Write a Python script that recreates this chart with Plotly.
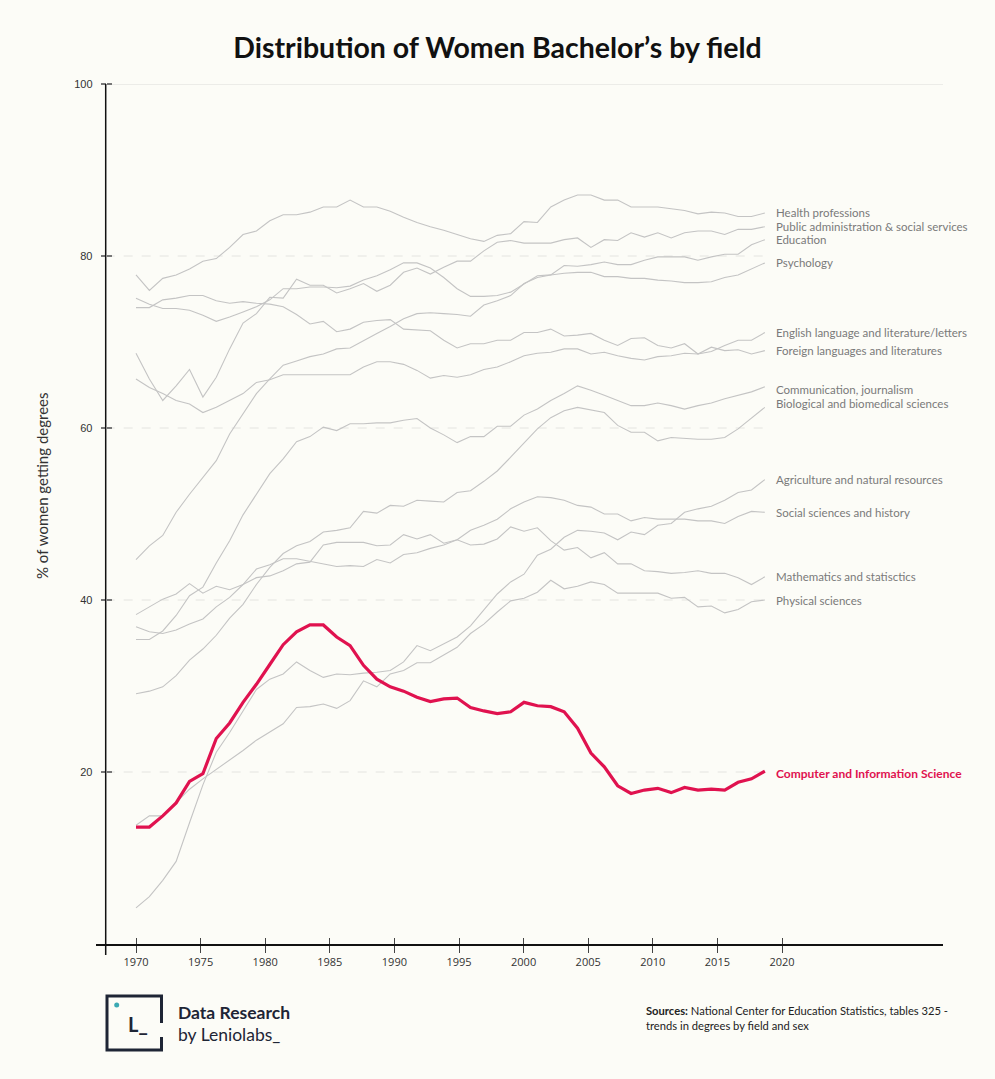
import plotly.graph_objects as go

# ---- data ----
years = list(range(1970, 2018))
axis_years = [1970, 1975, 1980, 1985, 1990, 1995, 2000, 2005, 2010, 2015, 2020]
y_ticks = [20, 40, 60, 80, 100]

health = [77.8, 76.0, 77.4, 77.8, 78.5, 79.4, 79.7, 81.0, 82.5, 82.9,
          84.1, 84.8, 84.8, 85.1, 85.7, 85.7, 86.5, 85.7, 85.7, 85.2,
          84.5, 83.9, 83.4, 83.0, 82.5, 82.0, 81.7, 82.4, 82.6, 84.0,
          83.9, 85.7, 86.5, 87.1, 87.1, 86.5, 86.5, 85.7, 85.7, 85.7,
          85.5, 85.3, 84.9, 85.1, 85.0, 84.6, 84.6, 85.0]
pub_admin = [68.7, 65.7, 63.2, 64.9, 66.8, 63.6, 65.9, 69.2, 72.2, 73.3,
             75.2, 75.1, 77.3, 76.6, 76.6, 75.7, 76.2, 76.8, 75.9, 76.6,
             78.1, 78.6, 77.9, 78.7, 79.4, 79.4, 80.6, 81.6, 81.8, 81.5,
             81.5, 81.5, 81.9, 82.1, 81.0, 81.9, 81.8, 82.7, 82.2, 82.7,
             82.1, 82.7, 82.9, 82.9, 82.5, 83.1, 83.1, 83.4]
education = [75.1, 74.4, 73.9, 73.9, 73.7, 73.1, 72.4, 72.9, 73.5, 74.1,
             74.9, 76.2, 76.2, 76.4, 76.4, 76.3, 76.5, 77.2, 77.7, 78.4,
             79.2, 79.2, 78.6, 77.5, 76.2, 75.3, 75.3, 75.4, 75.8, 76.8,
             77.7, 77.8, 78.9, 78.8, 79.0, 79.3, 79.0, 79.0, 79.5, 79.9,
             79.9, 79.9, 79.5, 79.9, 80.2, 80.2, 81.3, 81.9]
psychology = [44.7, 46.3, 47.5, 50.2, 52.3, 54.3, 56.2, 59.3, 61.6, 64.0,
              65.7, 67.3, 67.8, 68.3, 68.6, 69.2, 69.3, 70.2, 71.0, 71.8,
              72.7, 73.3, 73.4, 73.3, 73.2, 73.0, 74.3, 74.8, 75.4, 76.8,
              77.5, 77.8, 78.0, 78.1, 78.1, 77.6, 77.6, 77.4, 77.4, 77.2,
              77.1, 76.9, 76.9, 77.0, 77.5, 77.8, 78.5, 79.2]
english = [65.7, 64.7, 64.0, 63.2, 62.8, 61.8, 62.4, 63.2, 64.0, 65.3,
           65.6, 66.2, 66.2, 66.2, 66.2, 66.2, 66.2, 67.1, 67.7, 67.7,
           67.4, 66.7, 65.8, 66.1, 65.9, 66.2, 66.8, 67.1, 67.7, 68.4,
           68.7, 68.8, 69.2, 69.2, 68.6, 68.8, 68.4, 68.1, 67.9, 68.3,
           68.4, 68.7, 68.6, 68.9, 69.6, 70.2, 70.2, 71.1]
foreign = [74.0, 74.0, 74.9, 75.1, 75.4, 75.4, 74.8, 74.5, 74.7, 74.5,
           74.4, 74.1, 73.2, 72.1, 72.4, 71.2, 71.5, 72.3, 72.5, 72.6,
           71.5, 71.4, 71.3, 70.2, 69.3, 69.8, 69.8, 70.2, 70.2, 71.1,
           71.1, 71.5, 70.7, 70.8, 71.0, 70.2, 69.6, 70.4, 70.5, 69.6,
           69.3, 69.8, 68.6, 69.4, 69.0, 69.1, 68.6, 69.0]
comm = [35.4, 35.4, 36.4, 38.2, 40.5, 41.5, 44.3, 46.9, 49.9, 52.3,
        54.7, 56.4, 58.4, 59.0, 60.1, 59.7, 60.5, 60.5, 60.6, 60.6,
        60.9, 61.1, 60.0, 59.2, 58.3, 59.0, 59.0, 60.2, 60.2, 61.5,
        62.2, 63.2, 64.0, 64.9, 64.4, 63.8, 63.2, 62.6, 62.6, 62.9,
        62.6, 62.2, 62.6, 62.9, 63.4, 63.8, 64.2, 64.8]
biology = [29.1, 29.4, 29.9, 31.2, 33.0, 34.3, 35.9, 37.9, 39.5, 41.8,
           43.8, 45.4, 46.3, 46.8, 47.9, 48.1, 48.4, 50.3, 50.1, 51.0,
           50.9, 51.6, 51.5, 51.4, 52.5, 52.7, 53.8, 55.0, 56.6, 58.3,
           59.9, 61.2, 62.0, 62.4, 62.1, 61.8, 60.3, 59.5, 59.5, 58.5,
           58.9, 58.8, 58.7, 58.7, 58.9, 59.9, 61.1, 62.4]
agriculture = [4.2, 5.5, 7.4, 9.6, 14.1, 18.5, 22.3, 24.6, 27.1, 29.6,
               30.8, 31.4, 32.8, 31.8, 31.0, 31.4, 31.3, 31.5, 31.6, 31.8,
               32.8, 34.7, 34.1, 34.9, 35.7, 37.0, 38.8, 40.7, 42.1, 43.0,
               45.2, 45.9, 47.3, 48.1, 48.0, 47.8, 47.0, 47.9, 47.6, 48.7,
               48.9, 50.2, 50.6, 50.9, 51.6, 52.5, 52.8, 54.0]
social = [36.9, 36.3, 36.1, 36.5, 37.2, 37.8, 39.2, 40.3, 41.8, 43.6,
          44.1, 44.8, 44.8, 44.5, 44.2, 43.9, 44.0, 43.9, 44.7, 44.3,
          45.3, 45.5, 46.0, 46.4, 47.0, 48.1, 48.7, 49.4, 50.6, 51.4,
          52.0, 51.9, 51.6, 51.0, 50.8, 50.0, 50.0, 49.2, 49.6, 49.4,
          49.4, 49.4, 49.2, 49.2, 48.9, 49.7, 50.3, 50.2]
math = [38.3, 39.2, 40.1, 40.7, 41.9, 40.8, 41.6, 41.2, 41.8, 42.6,
        42.8, 43.4, 44.2, 44.4, 46.4, 46.7, 46.7, 46.7, 46.3, 46.4,
        47.6, 47.1, 47.6, 46.6, 47.0, 46.4, 46.5, 47.1, 48.5, 48.0,
        48.4, 46.9, 45.8, 46.1, 44.9, 45.5, 44.2, 44.2, 43.4, 43.3,
        43.1, 43.2, 43.4, 43.1, 43.1, 42.6, 41.8, 42.7]
physical = [13.8, 14.9, 14.9, 16.5, 18.0, 19.2, 20.3, 21.3, 22.5, 23.7,
            24.6, 25.6, 27.5, 27.6, 27.9, 27.4, 28.3, 30.6, 29.9, 31.4,
            31.8, 32.7, 32.7, 33.6, 34.5, 36.1, 37.2, 38.6, 39.9, 40.2,
            40.9, 42.3, 41.3, 41.6, 42.1, 41.8, 40.8, 40.8, 40.8, 40.8,
            40.2, 40.3, 39.2, 39.3, 38.5, 38.9, 39.8, 40.0]
computer = [13.6, 13.6, 14.9, 16.4, 18.9, 19.8, 23.9, 25.7, 28.1, 30.2,
            32.5, 34.8, 36.3, 37.1, 37.1, 35.7, 34.7, 32.4, 30.8, 29.9,
            29.4, 28.7, 28.2, 28.5, 28.6, 27.5, 27.1, 26.8, 27.0, 28.1,
            27.7, 27.6, 27.0, 25.1, 22.2, 20.6, 18.4, 17.5, 17.9, 18.1,
            17.6, 18.2, 17.9, 18.0, 17.9, 18.8, 19.2, 20.1]

grey_fields = [
    ("Health professions", health, 1),
    ("Public administration & social services", pub_admin, 0),
    ("Education", education, 0),
    ("Psychology", psychology, 0),
    ("English language and literature/letters", english, 0),
    ("Foreign languages and literatures", foreign, 0),
    ("Communication, journalism", comm, -3),
    ("Biological and biomedical sciences", biology, 4),
    ("Agriculture and natural resources", agriculture, 0),
    ("Social sciences and history", social, 0),
    ("Mathematics and statisctics", math, 0),
    ("Physical sciences", physical, 0),
]
highlight_label = "Computer and Information Science"

# ---- page geometry (px) ----
W, H = 995, 1079
L_PX, R_PX, T_PX, B_PX = 96, 943, 84, 944
YAXIS_PX = 105.7
FIRST_PX = 136          # where the first point / 1970 tick sit
STEP_DATA = 13.38       # px between data points
STEP_TICK = 12.92       # px per year on the tick axis

BG = "#FCFCF7"
GREY = "#C4C4C4"
RED = "#E0124F"
INK = "#1E2535"


def px_x(px):
    return (px - L_PX) / (R_PX - L_PX)


def px_y(py):
    return (B_PX - py) / (B_PX - T_PX)


def page_text(text, px, py, size, bold=False, color=INK, xanchor="left", **kw):
    # free text placed in page pixels
    return dict(x=px_x(px), y=px_y(py), xref="paper", yref="paper",
                text=f"<b>{text}</b>" if bold else text, showarrow=False,
                xanchor=xanchor, yanchor="middle",
                font=dict(family="Lato", size=size, color=color), **kw)


data_range = [years[0] - (FIRST_PX - L_PX) / STEP_DATA, years[0] + (R_PX - FIRST_PX) / STEP_DATA]
tick_range = [axis_years[0] - (FIRST_PX - L_PX) / STEP_TICK, axis_years[0] + (R_PX - FIRST_PX) / STEP_TICK]
grid_start = years[0] - (FIRST_PX - YAXIS_PX) / STEP_DATA

fig = go.Figure()

for name, vals, _ in grey_fields:
    fig.add_trace(go.Scatter(x=years, y=vals, mode="lines", name=name,
                             line=dict(color=GREY, width=1.1),
                             hoverinfo="skip", showlegend=False))

fig.add_trace(go.Scatter(x=years, y=computer, mode="lines", name=highlight_label,
                         line=dict(color=RED, width=3.2),
                         hoverinfo="skip", showlegend=False))

# invisible trace so the tick axis gets drawn
fig.add_trace(go.Scatter(x=[axis_years[0], axis_years[-1]], y=[None, None],
                         xaxis="x2", yaxis="y", mode="markers",
                         hoverinfo="skip", showlegend=False))

shapes = []
for v in y_ticks[:-1]:
    shapes.append(dict(type="line", xref="x", yref="y", x0=grid_start, x1=years[-1],
                       y0=v, y1=v, line=dict(color="#E4E4E0", width=1, dash="dash"), layer="below"))
shapes.append(dict(type="line", xref="paper", yref="y", x0=px_x(YAXIS_PX), x1=1,
                   y0=y_ticks[-1], y1=y_ticks[-1], line=dict(color="#DCDCDA", width=1), layer="below"))
# y axis line, running a little below the x axis
shapes.append(dict(type="line", xref="paper", yref="paper", x0=px_x(YAXIS_PX), x1=px_x(YAXIS_PX),
                   y0=px_y(955), y1=1, line=dict(color="#111111", width=1.5)))

# logo frame
fx0, fx1, fy0, fy1 = px_x(107), px_x(161.5), px_y(996), px_y(1050)
frame = (f"M {fx1},{px_y(1023)} L {fx1},{fy0} L {fx0},{fy0} L {fx0},{fy1} L {fx1},{fy1} "
         f"L {fx1},{px_y(1037)}")
shapes.append(dict(type="path", xref="paper", yref="paper", path=frame,
                   line=dict(color=INK, width=3)))
shapes.append(dict(type="circle", xref="paper", yref="paper",
                   x0=px_x(114.2), x1=px_x(119.2), y0=px_y(1002.5), y1=px_y(1007.5),
                   fillcolor="#3BA9B3", line=dict(width=0)))

annotations = []
for name, vals, nudge in grey_fields:
    annotations.append(dict(x=years[-1], y=vals[-1], xref="x", yref="y", text=name,
                            showarrow=False, xanchor="left", yanchor="middle",
                            xshift=9, yshift=nudge,
                            font=dict(family="Lato", size=11.5, color="#7A7A7A")))
annotations.append(dict(x=years[-1], y=computer[-1], xref="x", yref="y",
                        text=f"<b>{highlight_label}</b>", showarrow=False,
                        xanchor="left", yanchor="middle", xshift=9, yshift=-2,
                        font=dict(family="Lato", size=12, color=RED)))

annotations.append(page_text("% of women getting degrees", 42, 486, 15, color="#333333",
                             xanchor="center", textangle=-90))
annotations.append(page_text("L_", 138, 1024, 20, bold=True, xanchor="center"))
annotations.append(page_text("Data Research", 176, 1012, 17.5, bold=True))
annotations.append(page_text("by Leniolabs_", 176, 1034, 17.5))
annotations.append(page_text("<b>Sources:</b> National Center for Education Statistics, tables 325 -"
                             "<br>trends in degrees by field and sex",
                             644, 1017.5, 11.2, color="#222222", align="left"))

fig.update_layout(
    width=W, height=H,
    margin=dict(l=L_PX, r=W - R_PX, t=T_PX, b=H - B_PX, pad=0),
    paper_bgcolor=BG, plot_bgcolor=BG,
    title=dict(text="<b>Distribution of Women Bachelor’s by field</b>",
               x=0.5, xref="container", xanchor="center",
               y=(H - 48) / H, yref="container", yanchor="middle",
               font=dict(family="Lato", size=28.5, color="#111111")),
    xaxis=dict(range=data_range, visible=False, fixedrange=True),
    xaxis2=dict(range=tick_range, overlaying="x", anchor="y", side="bottom",
                tickvals=axis_years, ticks="outside", ticklen=7, tickwidth=1.3, tickcolor="#444444",
                minor=dict(tickvals=axis_years, ticks="inside", ticklen=6, tickwidth=1.3,
                           tickcolor="#444444"),
                showline=True, linecolor="#111111", linewidth=1.5,
                showgrid=False, zeroline=False, fixedrange=True,
                tickfont=dict(family="Open Sans", size=11, color="#333333")),
    yaxis=dict(range=[0, 100], tickvals=y_ticks, anchor="free", position=px_x(YAXIS_PX),
               ticks="outside", ticklen=5, tickwidth=2, tickcolor="#777777",
               minor=dict(tickvals=y_ticks, ticks="inside", ticklen=5, tickwidth=2,
                          tickcolor="#777777"),
               ticklabelstandoff=6,
               showline=False, showgrid=False, zeroline=False, fixedrange=True,
               tickfont=dict(family="Liberation Sans", size=11, color="#333333")),
    shapes=shapes,
    annotations=annotations,
    showlegend=False,
)

# drop the page's default body margin so the figure sits at the window origin
fig.write_html("out.html", config={"displayModeBar": False},
               post_script=f"document.body.style.margin='0';document.body.style.background='{BG}';")
